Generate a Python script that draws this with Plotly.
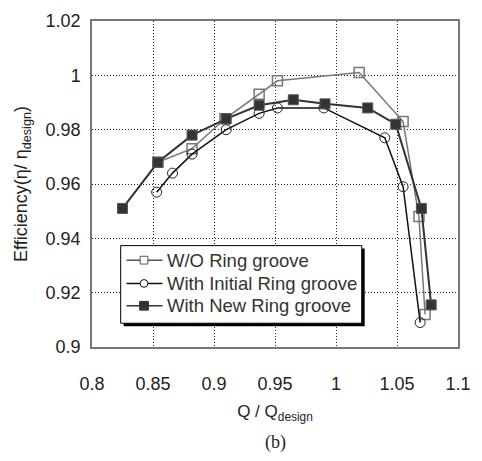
import plotly.graph_objects as go

# W/O Ring groove
wo_q = [0.854, 0.882, 0.909, 0.937, 0.952, 1.019, 1.055, 1.068, 1.073]
wo_eff = [0.968, 0.973, 0.984, 0.993, 0.998, 1.001, 0.983, 0.948, 0.912]
# With Initial Ring groove
ini_q = [0.853, 0.866, 0.882, 0.910, 0.937, 0.952, 0.990, 1.040, 1.055, 1.069]
ini_eff = [0.957, 0.964, 0.971, 0.980, 0.986, 0.988, 0.988, 0.977, 0.959, 0.909]
# With New Ring groove
new_q = [0.825, 0.854, 0.882, 0.910, 0.937, 0.965, 0.991, 1.026, 1.049, 1.070, 1.078]
new_eff = [0.951, 0.968, 0.978, 0.984, 0.989, 0.991, 0.9895, 0.988, 0.982, 0.951, 0.9155]

series_names = ["W/O Ring groove", "With Initial Ring groove", "With New Ring groove"]

x_ticks = [0.8, 0.85, 0.9, 0.95, 1.0, 1.05, 1.1]
x_tick_labels = ["0.8", "0.85", "0.9", "0.95", "1", "1.05", "1.1"]
y_ticks = [0.9, 0.92, 0.94, 0.96, 0.98, 1.0, 1.02]
y_tick_labels = ["0.9", "0.92", "0.94", "0.96", "0.98", "1", "1.02"]

FONT = "Liberation Sans, Arial"
TXT = "#222222"

styles = [
    dict(line=dict(color="#777777", width=1.5),
         marker=dict(symbol="square-open", size=10, color="#777777", line=dict(width=1.5))),
    dict(line=dict(color="#111111", width=1.5),
         marker=dict(symbol="circle-open", size=10, color="#222222", line=dict(width=1))),
    dict(line=dict(color="#333333", width=2),
         marker=dict(symbol="square", size=10, color="#333333", line=dict(width=1, color="#555555"))),
]

fig = go.Figure()
for name, xs, ys, st in zip(series_names, [wo_q, ini_q, new_q], [wo_eff, ini_eff, new_eff], styles):
    fig.add_trace(go.Scatter(x=xs, y=ys, name=name, mode="lines+markers", showlegend=False, **st))

axis_common = dict(
    showgrid=True, gridcolor="#222222", griddash="1px,2px", gridwidth=1,
    showline=True, linecolor="#777777", linewidth=1.5, mirror=True,
    zeroline=False, ticks="outside", tickcolor="rgba(0,0,0,0)",
    tickfont=dict(family=FONT, size=18, color=TXT),
)

L, R, T, B = 91.5, 14, 11.5, 113.5
PW, PH = 482 - L - R, 461 - T - B


def px(x):
    return (x - L) / PW


def py(y):
    return 1 - (y - T) / PH


# Hand-drawn legend box (with drop shadow) in paper coordinates
shapes = [
    dict(type="rect", xref="paper", yref="paper", x0=px(124), x1=px(372), y0=py(326), y1=py(246),
         fillcolor="black", line=dict(width=0), layer="above"),
    dict(type="rect", xref="paper", yref="paper", x0=px(121), x1=px(369), y0=py(323), y1=py(243),
         fillcolor="white", line=dict(color="black", width=1), layer="above"),
]
annotations = []
row_y = [258, 282, 305]
line_cols = ["#555555", "#111111", "#333333"]
for i, (name, yy) in enumerate(zip(series_names, row_y)):
    shapes.append(dict(type="line", xref="paper", yref="paper", x0=px(127), x1=px(164),
                       y0=py(yy), y1=py(yy), line=dict(color=line_cols[i], width=1.5), layer="above"))
    if i == 0:
        shapes.append(dict(type="rect", xref="paper", yref="paper", x0=px(141), x1=px(149),
                           y0=py(yy + 4), y1=py(yy - 4), fillcolor="white",
                           line=dict(color="#555555", width=1), layer="above"))
    elif i == 1:
        shapes.append(dict(type="circle", xref="paper", yref="paper", x0=px(141), x1=px(149),
                           y0=py(yy + 4), y1=py(yy - 4), fillcolor="white",
                           line=dict(color="#111111", width=1), layer="above"))
    else:
        shapes.append(dict(type="rect", xref="paper", yref="paper", x0=px(140.5), x1=px(149.5),
                           y0=py(yy + 4.5), y1=py(yy - 4.5), fillcolor="#333333",
                           line=dict(color="#333333", width=1), layer="above"))
    annotations.append(dict(text=name, xref="paper", yref="paper", x=px(167), y=py(yy),
                            xanchor="left", yanchor="middle", showarrow=False,
                            font=dict(family=FONT, size=18.5, color="#333333")))

annotations.append(dict(text="(b)", xref="paper", yref="paper", x=0.5, y=py(446),
                        xanchor="center", yanchor="middle", showarrow=False,
                        font=dict(family="Liberation Serif, Times New Roman", size=18, color=TXT)))

fig.update_layout(
    width=482, height=461,
    margin=dict(l=L, r=R, t=T, b=B),
    paper_bgcolor="white", plot_bgcolor="white",
    showlegend=False,
    xaxis=dict(range=[0.8, 1.1], tickvals=x_ticks, ticktext=x_tick_labels, ticklen=20,
               title=dict(text="Q / Q<sub>design</sub>", standoff=12,
                          font=dict(family=FONT, size=17, color=TXT)),
               **axis_common),
    yaxis=dict(range=[0.9, 1.02], tickvals=y_ticks, ticktext=y_tick_labels, ticklen=6,
               title=dict(text="Efficiency(η/ η<sub>design</sub>)", standoff=13,
                          font=dict(family=FONT, size=18, color=TXT)),
               **axis_common),
    annotations=annotations,
    shapes=shapes,
)

fig.write_html("out.html")
